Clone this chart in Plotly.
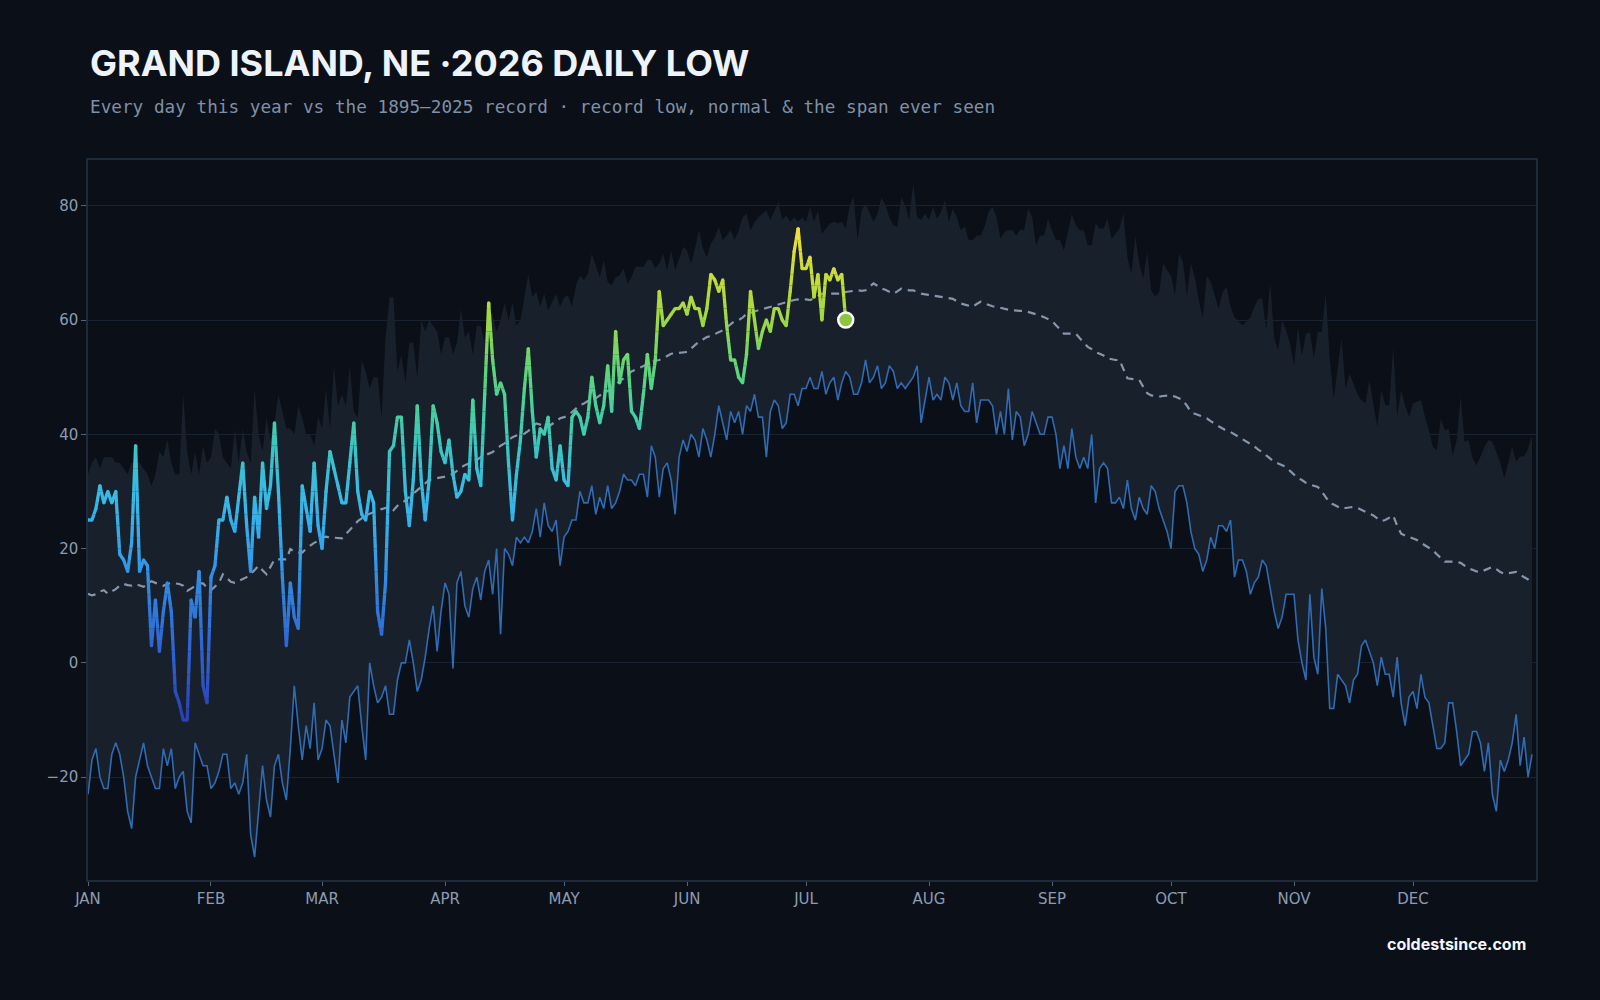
import math
import plotly.graph_objects as go

# ---------------- data ----------------
MONTHS = ["JAN", "FEB", "MAR", "APR", "MAY", "JUN", "JUL", "AUG", "SEP", "OCT", "NOV", "DEC"]
MONTH_START_DAY = [0, 31, 59, 90, 120, 151, 181, 212, 243, 273, 304, 334]
Y_TICKS = [-20, 0, 20, 40, 60, 80]

# record high of the daily low (top of the shaded span), day 0 = Jan 1
record_high = [
    33, 35, 36, 34, 36, 36, 36, 35, 35, 34,
    33, 35, 35, 35, 34, 33, 31, 33, 37, 36,
    39, 35, 33, 33, 47, 37, 33, 37, 33, 38,
    35, 36, 41, 40, 36, 35, 34, 41, 35, 41,
    37, 35, 48, 40, 37, 43, 39, 42, 47, 44,
    41, 41, 40, 45, 43, 40, 40, 38, 43, 41,
    48, 41, 52, 45, 47, 45, 52, 44, 43, 53,
    51, 48, 50, 50, 43, 57, 64, 64, 51, 54,
    49, 56, 56, 50, 60, 58, 60, 59, 58, 54,
    57, 57, 54, 56, 62, 57, 58, 54, 59, 59,
    56, 61, 61, 58, 60, 63, 60, 63, 59, 60,
    64, 68, 64, 65, 62.3, 64.6, 61.7, 63.2, 64.6, 62.3,
    64, 64.3, 62.3, 66.1, 67.8, 67, 68.1, 71.6, 69.6, 67.5,
    70.5, 66.7, 66.1, 67.5, 67.8, 69, 66.4, 67.5, 69.3, 69.3,
    69.3, 70.5, 70.5, 69, 69.9, 71.6, 68.7, 72.2, 68.7, 70.7,
    72.8, 72.2, 69.9, 72.5, 75.7, 72.5, 71, 73.4, 74.5, 76.3,
    74, 74.8, 75.7, 74, 75.7, 78, 78.6, 75.7, 77.2, 78,
    78.6, 79.2, 77.5, 79.2, 80.7, 77.5, 78.3, 77.2, 78, 77.2,
    78, 77.2, 79.8, 77.2, 79.2, 75.1, 76, 76.9, 77.2, 76.9,
    77.2, 76, 80.1, 81.5, 74, 79.2, 80.4, 78.9, 77.2, 78.6,
    81.5, 80.1, 78, 76.6, 76.3, 81.5, 80.1, 77.5, 83.9, 78,
    77.5, 78.6, 77.5, 79.8, 77.7, 78.9, 81, 77.2, 79.5, 78,
    75.7, 76.3, 74, 74, 74.8, 74.8, 76.3, 78.9, 79.8, 78,
    74.2, 75.4, 75.8, 75.7, 74.8, 75.8, 75.8, 79.5, 78, 73.1,
    74.8, 74.8, 77.7, 75.7, 74, 74, 72.2, 75.4, 78.6, 76.6,
    75.7, 75.7, 73.1, 73.1, 76.9, 76, 76, 77.7, 74.2, 75.1,
    76, 78.7, 71, 68.1, 74.8, 69.9, 67.3, 71.9, 65.2, 64.1,
    64.9, 69.9, 68.7, 67.8, 64.3, 71.6, 70.2, 64.3, 69.9, 67.5,
    63.5, 60.5, 67.8, 66.7, 64.1, 62, 64.9, 65.8, 62.3, 60.5,
    59.7, 59.1, 59.7, 60.5, 62.3, 63.7, 63.7, 58.2, 66.7, 57,
    54.7, 60, 58.2, 55.9, 52.1, 58.8, 53.8, 57.6, 57.9, 53.3,
    57.9, 57.9, 64.6, 53.5, 46.3, 51.2, 56.8, 48, 50.6, 48.9,
    47, 46, 45.4, 49.5, 45.4, 41.3, 47.7, 45.1, 45.1, 55.3,
    43.1, 47.7, 45, 43.1, 45.4, 45.7, 46, 43.1, 40.7, 37.8,
    37.2, 42.8, 40.7, 41, 36.3, 39, 46.6, 38.7, 39, 35.8,
    34.6, 36.1, 37.8, 39, 38.7, 36.9, 35, 32.3, 35.2, 37.8,
    35.2, 36.1, 36.1, 37.5, 39.8,
]

# record low (1895-2025)
record_low = [
    -23, -17, -15, -20, -22, -22, -16, -14, -16, -20,
    -26, -29, -20, -17, -14, -18, -20, -22, -22, -15,
    -18, -15, -22, -20, -19, -26, -28, -14, -16, -18,
    -18, -22, -21, -19, -16, -16, -22, -21, -23, -21,
    -16, -30, -34, -26, -18, -24, -27, -18, -16, -21,
    -24, -15, -4, -11, -17, -11, -15, -7, -17, -15,
    -10, -11, -16, -21, -10, -14, -6, -5, -4, -11,
    -17, 0, -4, -7, -6, -4, -9, -9, -3, 0,
    0, 4, 0, -5, -3, 1, 6, 10, 2, 9,
    14, 12, -1, 14, 16, 10, 8, 13, 15, 11,
    16, 18, 12, 20, 5, 20, 19, 17, 22, 21,
    22, 21, 23, 27, 22, 28, 24, 23, 25, 17,
    22, 23, 25, 25, 30, 28, 28, 31, 26, 29,
    27, 31, 27, 28, 30, 33, 32, 32, 31, 33,
    33, 29, 38, 36, 29, 34, 35, 32, 26, 36,
    39, 37, 40, 39, 36, 41, 39, 36, 40, 45,
    42, 39, 44, 42, 44, 40, 45, 44, 47, 43,
    43, 36, 44, 46, 45, 41, 42, 47, 47, 45,
    48, 48, 50, 48, 48, 51, 47, 49, 50, 46,
    49, 51, 50, 47, 47, 49, 53, 49, 50, 52,
    48, 49, 52, 51, 48, 49, 48, 49, 50, 52,
    42, 46, 50, 46, 47, 46, 50, 49, 46, 49,
    45, 44, 44, 49, 42, 46, 46, 46, 45, 40,
    44, 40, 48, 39, 44, 43, 38, 40, 44, 42,
    40, 40, 43, 43, 40, 34, 38, 34, 41, 36,
    34, 36, 34, 40, 28, 34, 35, 34, 28, 28,
    29, 27, 32, 27, 25, 29, 27, 26, 31, 30,
    27, 25, 23, 20, 30, 31, 31, 28, 23, 20,
    19, 16, 18, 22, 20, 24, 24, 23, 25, 15,
    18, 18, 16, 12, 14, 15, 18, 17, 13, 9,
    6, 8, 12, 12, 12, 4, 0, -3, 12, 1,
    -2, 13, 6, -8, -8, -2, -3, -4, -7, -3,
    -2, 3, 4, 2, 0, -4, 1, -2, -2, -6,
    1, -7, -11, -6, -5, -8, -2, -6, -7, -11,
    -15, -15, -14, -7, -7, -12, -18, -17, -16, -12,
    -12, -14, -19, -14, -23, -26, -17, -19, -17, -14,
    -9, -18, -13, -20, -16,
]

# normal daily low
normal_low = [
    12.1, 11.8, 12.0, 12.5, 12.7, 12.1, 12.5, 12.9, 13.5, 13.8,
    13.6, 13.5, 13.8, 13.6, 13.3, 13.8, 14.3, 14.0, 13.7, 13.5,
    13.8, 14.0, 13.9, 13.8, 13.5, 12.6, 13.0, 13.5, 13.9, 13.9,
    13.2, 12.7, 13.3, 14.0, 15.5, 14.8, 14.2, 14.0, 14.3, 14.6,
    15.0, 15.5, 16.2, 17.0, 16.2, 15.5, 16.8, 18.1, 18.1, 18.1,
    18.1, 19.9, 19.5, 19.3, 19.3, 20.0, 20.5, 21.0, 21.3, 21.9,
    22.1, 21.9, 21.9, 21.9, 21.8, 22.5, 23.3, 24.1, 24.8, 25.3,
    25.8, 26.1, 26.4, 26.7, 26.9, 27.1, 27.3, 26.7, 27.5, 28.0,
    28.4, 29.0, 29.6, 30.2, 30.8, 31.4, 32.0, 32.2, 32.3, 32.5,
    32.6, 32.8, 33.1, 33.6, 34.2, 34.6, 34.9, 35.2, 35.5, 36.0,
    36.3, 36.6, 36.9, 37.4, 38.0, 38.4, 38.9, 39.5, 39.8, 40.0,
    40.1, 40.6, 41.2, 41.9, 41.7, 41.5, 41.3, 41.8, 42.3, 42.8,
    43.0, 43.3, 43.9, 44.5, 45.1, 45.4, 45.8, 46.0, 46.3, 46.8,
    47.2, 47.6, 48.0, 48.6, 49.3, 49.8, 50.4, 51.0, 51.3, 51.6,
    52.0, 52.3, 52.6, 52.9, 53.0, 53.3, 53.7, 54.1, 54.2, 54.3,
    54.4, 54.4, 55.0, 55.6, 56.2, 56.6, 57.0, 57.2, 57.5, 57.8,
    58.2, 58.7, 59.2, 59.8, 60.0, 60.4, 61.1, 61.2, 61.5, 61.7,
    61.9, 62.1, 62.3, 62.5, 62.7, 62.9, 63.1, 63.4, 63.5, 63.6,
    63.7, 63.6, 63.5, 63.8, 64.2, 64.6, 64.6, 64.6, 64.6, 64.6,
    64.6, 64.9, 65.0, 65.2, 65.2, 65.1, 65.2, 65.8, 66.4, 66.0,
    65.5, 65.3, 65.0, 64.6, 65.0, 65.5, 65.4, 65.2, 65.2, 64.9,
    64.6, 64.5, 64.4, 64.3, 64.2, 64.0, 64.0, 63.8, 63.7, 63.3,
    62.9, 62.7, 62.5, 62.3, 62.8, 63.2, 62.9, 62.6, 62.4, 62.3,
    62.1, 61.9, 61.8, 61.7, 61.6, 61.6, 61.6, 61.4, 61.2, 61.1,
    60.8, 60.5, 60.2, 59.8, 59.1, 58.4, 57.6, 57.6, 57.6, 57.6,
    56.8, 56.0, 55.3, 54.9, 54.4, 54.1, 53.8, 53.3, 53.1, 53.0,
    53.0, 51.5, 49.8, 49.7, 49.6, 49.5, 48.3, 47.2, 46.8, 46.7,
    46.6, 46.7, 46.8, 46.8, 46.6, 46.3, 46.0, 45.0, 43.9, 43.6,
    43.3, 43.0, 42.8, 42.3, 41.8, 41.4, 41.0, 40.6, 40.4, 40.0,
    39.6, 39.2, 38.8, 38.4, 37.9, 37.3, 36.9, 36.3, 35.7, 35.2,
    34.9, 34.6, 34.3, 33.6, 32.9, 32.3, 32.0, 31.5, 31.2, 31.0,
    30.8, 30.0, 29.0, 28.0, 27.7, 27.3, 27.0, 27.1, 27.2, 27.3,
    27.1, 26.8, 26.5, 26.1, 25.8, 25.3, 24.8, 25.0, 25.4, 25.8,
    24.0, 22.6, 22.3, 22.0, 21.8, 21.5, 21.0, 20.6, 20.2, 19.7,
    19.0, 18.3, 17.7, 17.7, 17.7, 17.7, 17.5, 17.0, 16.5, 16.3,
    16.0, 15.9, 16.2, 16.6, 16.8, 16.4, 15.9, 15.6, 15.7, 15.9,
    15.9, 15.4, 15.0, 14.6, 13.9,
]

# 2026 observed daily lows (Jan 1 - Jul 11)
low_2026 = [
    25, 25, 27, 31, 28, 30, 28, 30, 19, 18,
    16, 21, 38, 16, 18, 17, 3, 11, 2, 9,
    14, 9, -5, -7, -10, -10, 11, 8, 16, -4,
    -7, 15, 17, 25, 25, 29, 25, 23, 29, 35,
    24, 16, 29, 22, 35, 27, 31, 42, 30, 15,
    3, 14, 8, 6, 31, 27, 23, 35, 24, 20,
    30, 37, 34, 31, 28, 28, 35, 42, 30, 26,
    25, 30, 28, 9, 5, 14, 37, 38, 43, 43,
    30, 24, 32, 45, 32, 25, 32, 45, 42, 37,
    35, 39, 33, 29, 30, 33, 32, 46, 34, 31,
    47, 63, 53, 47, 49, 47, 35, 25, 33, 39,
    48, 55, 44, 36, 41, 40, 43, 34, 32, 38,
    32, 31, 43, 44, 43, 40, 43, 50, 45, 42,
    45, 52, 44, 58, 49, 53, 54, 44, 43, 41,
    47, 54, 48, 53, 65, 59, 60, 61, 62, 62,
    63, 61, 64, 62, 62, 59, 62, 68, 67, 65,
    67, 59, 53, 53, 50, 49, 54, 65, 60, 55,
    58, 60, 58, 62, 62, 60, 59, 65, 72, 76,
    69, 69, 71, 64, 68, 60, 68, 67, 69, 67,
    68, 60,
]

TITLE = "GRAND ISLAND, NE ·2026 DAILY LOW"
SUBTITLE = "Every day this year vs the 1895–2025 record · record low, normal & the span ever seen"
CREDIT = "coldestsince.com"

# ---------------- style ----------------
BG = "#0b0f17"
BAND = "#18202b"
GRID = "#192332"
FRAME = "#1f2b3b"
TICK = "#8b9cb2"
LOW_LINE = "#2f6cb3"
NORMAL_LINE = "#8696ab"

COLOR_STOPS = [
    (-10, "#2b3fb3"), (0, "#2f5dcf"), (12, "#3182e0"), (20, "#34a3eb"),
    (28, "#38b8ea"), (36, "#3ac4cc"), (44, "#45cfa0"), (52, "#62d678"),
    (60, "#9fd845"), (68, "#c8dc3a"), (76, "#f2df3a"),
]


def _rgb(h):
    h = h.lstrip("#")
    return tuple(int(h[i:i + 2], 16) for i in (0, 2, 4))


def color_at(v):
    if v <= COLOR_STOPS[0][0]:
        return COLOR_STOPS[0][1]
    for (v0, c0), (v1, c1) in zip(COLOR_STOPS[:-1], COLOR_STOPS[1:]):
        if v <= v1:
            t = (v - v0) / (v1 - v0)
            a, b = _rgb(c0), _rgb(c1)
            r = [round(a[k] + (b[k] - a[k]) * t) for k in range(3)]
            return "rgb(%d,%d,%d)" % tuple(r)
    return COLOR_STOPS[-1][1]


days = list(range(len(record_high)))
obs_days = list(range(len(low_2026)))

fig = go.Figure()

# span ever seen (record low -> record high)
fig.add_trace(go.Scatter(x=days, y=record_low, mode="lines", line=dict(width=0),
                         hoverinfo="skip", showlegend=False))
fig.add_trace(go.Scatter(x=days, y=record_high, mode="lines", line=dict(width=0),
                         fill="tonexty", fillcolor=BAND, hoverinfo="skip", showlegend=False))
# normal
fig.add_trace(go.Scatter(x=days, y=normal_low, mode="lines",
                         line=dict(color=NORMAL_LINE, width=2.2, dash="8px,6px"),
                         showlegend=False, name="normal"))
# record low line
fig.add_trace(go.Scatter(x=days, y=record_low, mode="lines",
                         line=dict(color=LOW_LINE, width=1.6), showlegend=False, name="record low"))

# 2026 line, coloured by temperature (split into small value bins)
STEP = 2.0
bins = {}
for i in range(len(low_2026) - 1):
    x0, x1 = obs_days[i], obs_days[i + 1]
    y0, y1 = low_2026[i], low_2026[i + 1]
    ts = [0.0, 1.0]
    if y0 != y1:
        lo, hi = min(y0, y1), max(y0, y1)
        b = math.floor(lo / STEP) * STEP + STEP
        while b < hi:
            ts.append((b - y0) / (y1 - y0))
            b += STEP
    ts.sort()
    for ta, tb in zip(ts[:-1], ts[1:]):
        xa, xb = x0 + ta * (x1 - x0), x0 + tb * (x1 - x0)
        ya, yb = y0 + ta * (y1 - y0), y0 + tb * (y1 - y0)
        key = math.floor(((ya + yb) / 2) / STEP)
        xs, ys = bins.setdefault(key, ([], []))
        xs.extend([xa, xb, None])
        ys.extend([ya, yb, None])

for key in sorted(bins):
    xs, ys = bins[key]
    fig.add_trace(go.Scatter(x=xs, y=ys, mode="lines",
                             line=dict(color=color_at(key * STEP + STEP / 2), width=3.3),
                             connectgaps=False, hoverinfo="skip", showlegend=False))
# smooth joints
fig.add_trace(go.Scatter(x=obs_days, y=low_2026, mode="markers",
                         marker=dict(size=3.3, color=[color_at(v) for v in low_2026], line=dict(width=0)),
                         showlegend=False, name="2026"))
# latest day
fig.add_trace(go.Scatter(x=obs_days[-1:], y=low_2026[-1:], mode="markers",
                         marker=dict(size=15, color="#8cc63f", line=dict(color="#ffffff", width=2.5)),
                         showlegend=False, name="latest"))

fig.update_layout(
    width=1600, height=1000,
    margin=dict(l=88, r=64, t=160, b=120),
    paper_bgcolor=BG, plot_bgcolor=BG,
    showlegend=False,
    xaxis=dict(range=[0, 365], tickmode="array", tickvals=MONTH_START_DAY, ticktext=MONTHS,
               showgrid=False, zeroline=False, showline=True, mirror=True,
               linecolor=FRAME, linewidth=1.5, ticks="outside", ticklen=4, tickwidth=1,
               tickcolor="#55657a",
               tickfont=dict(family="DejaVu Sans", size=15, color=TICK)),
    yaxis=dict(range=[-38, 88], tickmode="array", tickvals=Y_TICKS,
               showgrid=True, gridcolor=GRID, gridwidth=1.2, zeroline=False,
               showline=True, mirror=True, linecolor=FRAME, linewidth=1.5,
               ticks="outside", ticklen=5, tickwidth=1, tickcolor="#55657a",
               tickfont=dict(family="DejaVu Sans", size=15, color=TICK)),
    annotations=[
        dict(text=TITLE, xref="paper", yref="paper", x=0, y=(880 - 63) / 720,
             xanchor="left", yanchor="middle", showarrow=False,
             font=dict(family="Inter", size=36, weight=700, color="#eef3fa")),
        dict(text=SUBTITLE, xref="paper", yref="paper", x=0, y=(880 - 107) / 720,
             xanchor="left", yanchor="middle", showarrow=False,
             font=dict(family="DejaVu Sans Mono", size=17.7, color="#7f91a8")),
        dict(text=CREDIT, xref="paper", yref="paper", x=(1528 - 88) / 1448, y=(880 - 944) / 720,
             xanchor="right", yanchor="middle", showarrow=False,
             font=dict(family="Inter", size=16, weight=700, color="#f2f5f9")),
    ],
)

fig.write_html("out.html")
